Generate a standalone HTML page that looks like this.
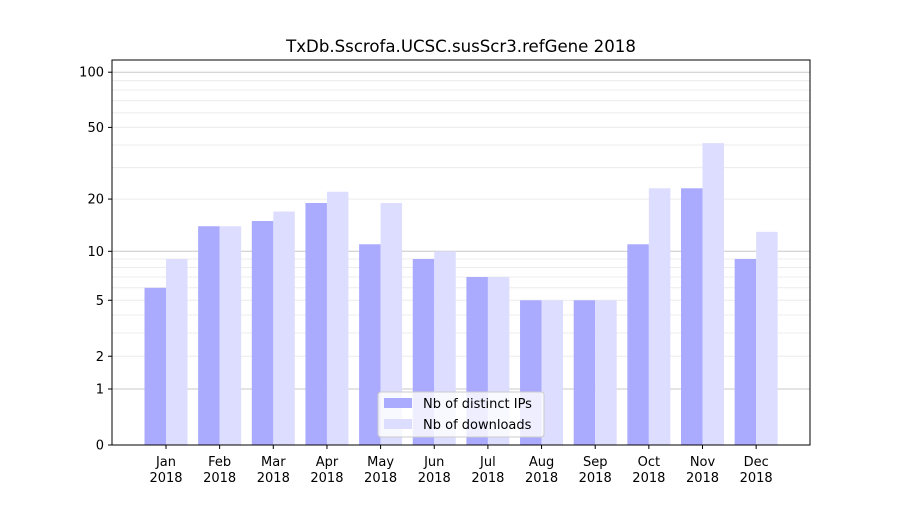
<!DOCTYPE html>
<html><head><meta charset="utf-8"><style>
body{margin:0;background:#fff;font-family:"Liberation Sans","DejaVu Sans",sans-serif}
svg text{font-family:"DejaVu Sans","Liberation Sans",sans-serif;fill:#000}
</style></head><body>
<svg id="chart" width="900" height="500" xmlns="http://www.w3.org/2000/svg">
<rect width="900" height="500" fill="#fff"/>
<text x="461" y="52" font-size="16.6" text-anchor="middle">TxDb.Sscrofa.UCSC.susScr3.refGene 2018</text>
<g id="grid"></g><g id="bars"></g><g id="axes"></g>
<g>
<rect x="378" y="392" width="166" height="45" rx="3" fill="#fff" fill-opacity="0.8" stroke="#ccc"/>
<rect x="384" y="398" width="28" height="10" fill="#aaaaff"/>
<text x="423" y="408" font-size="13">Nb of distinct IPs</text>
<rect x="384" y="419" width="28" height="10" fill="#ddddff"/>
<text x="423" y="429" font-size="13">Nb of downloads</text>
</g>
</svg>
<script>
const months=["Jan","Feb","Mar","Apr","May","Jun","Jul","Aug","Sep","Oct","Nov","Dec"];
const ips=[6,14,15,19,11,9,7,5,5,11,23,9];
const downloads=[9,14,17,22,19,10,7,5,5,23,41,13];
const yTicks=[0,1,2,5,10,20,50,100];
const NS="http://www.w3.org/2000/svg";
const L=112,R=810,T=60,B=445;
function y(v){return B-Math.log10(v+1)*186;}
function xc(i){return 166+i*53.65;}
function mk(tag,attrs,parent,text){const e=document.createElementNS(NS,tag);for(const k in attrs)e.setAttribute(k,attrs[k]);if(text!==undefined)e.textContent=text;document.getElementById(parent).appendChild(e);return e;}
for(let d=1;d<=100;d*=10){for(let m=1;m<10;m++){const v=m*d;if(v>100&&m>1)break;const g=mk('line',{x1:L,x2:R,y1:y(v),y2:y(v),stroke:m===1?'#c8c8c8':'#ececec','stroke-width':1},'grid');

}}
const bw=21.5;
ips.forEach((v,i)=>{const r=mk('rect',{x:xc(i)-bw,y:y(v),width:bw,height:B-y(v),fill:'#aaaaff'},'bars');

});
downloads.forEach((v,i)=>{const r=mk('rect',{x:xc(i),y:y(v),width:bw,height:B-y(v),fill:'#ddddff'},'bars');

});
const f=mk('rect',{x:L,y:T,width:R-L,height:B-T,fill:'none',stroke:'#000','stroke-width':1},'axes');


yTicks.forEach(v=>{mk('line',{x1:L-4,x2:L,y1:y(v),y2:y(v),stroke:'#000'},'axes');
const t=mk('text',{x:L-8,y:y(v)+4.5,'font-size':13,'text-anchor':'end'},'axes',String(v));

});
months.forEach((m,i)=>{mk('line',{x1:xc(i),x2:xc(i),y1:B,y2:B+4,stroke:'#000'},'axes');
const t=mk('text',{x:xc(i),y:466,'font-size':13,'text-anchor':'middle'},'axes',m);


const t2=mk('text',{x:xc(i),y:482,'font-size':13,'text-anchor':'middle'},'axes','2018');

});
</script>
</body></html>
